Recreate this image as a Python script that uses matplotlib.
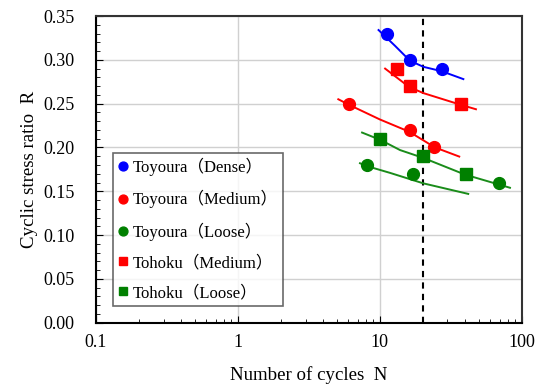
#libs
import matplotlib
matplotlib.use('Agg')
import matplotlib.pyplot as plt
import numpy as np
from matplotlib.ticker import MultipleLocator, LogLocator, NullFormatter

plt.rcParams['font.family'] = ['Liberation Serif', 'Noto Sans CJK JP']

#measured points (N, R)
toy_dense_N = [11.2, 16.3, 27.3]
toy_dense_R = [0.33, 0.30, 0.29]
toy_med_N = [6.1, 16.3, 24.2]
toy_med_R = [0.25, 0.22, 0.20]
toy_loose_N = [8.1, 17.2, 69.5]
toy_loose_R = [0.18, 0.17, 0.16]
toh_med_N = [13.2, 16.3, 37.3]
toh_med_R = [0.29, 0.27, 0.25]
toh_loose_N = [10.0, 20.3, 40.3]
toh_loose_R = [0.21, 0.19, 0.17]

#trend curves
toy_dense_cN = [9.8, 12.8, 16.3, 20.3, 27.3, 38.8]
toy_dense_cR = [0.334, 0.316, 0.299, 0.292, 0.287, 0.278]
toy_med_cN = [5.1, 6.1, 10.0, 16.1, 24.5, 36.3]
toy_med_cR = [0.255, 0.2485, 0.232, 0.218, 0.200, 0.1896]
toy_loose_cN = [7.25, 8.0, 11.8, 20.3, 42.0]
toy_loose_cR = [0.182, 0.179, 0.171, 0.159, 0.147]
toh_med_cN = [10.9, 16.1, 20.3, 36.7, 47.6]
toh_med_cR = [0.290, 0.269, 0.262, 0.249, 0.2436]
toh_loose_cN = [7.5, 10.1, 13.9, 20.3, 39.9, 82.7]
toh_loose_cR = [0.217, 0.2086, 0.197, 0.188, 0.169, 0.154]

N_limit = 20

labels = ['Toyoura（Dense）', 'Toyoura（Medium）', 'Toyoura（Loose）',
          'Tohoku（Medium）', 'Tohoku（Loose）']

fig = plt.figure(figsize=(5.41, 3.85), dpi=100)
ax = fig.add_axes([0.1775, 0.1618, 0.7868, 0.7966])

green = '#008000'
curves = [(toy_dense_cN, toy_dense_cR, 'blue'), (toy_med_cN, toy_med_cR, 'red'),
          (toy_loose_cN, toy_loose_cR, '#1a8c1a'), (toh_med_cN, toh_med_cR, 'red'),
          (toh_loose_cN, toh_loose_cR, '#1a8c1a')]
for cN, cR, c in curves:
    ax.plot(cN, cR, '-', color=c, lw=1.4, zorder=3)

points = [(toy_dense_N, toy_dense_R, 'blue', 'o'), (toy_med_N, toy_med_R, 'red', 'o'),
          (toy_loose_N, toy_loose_R, green, 'o'), (toh_med_N, toh_med_R, 'red', 's'),
          (toh_loose_N, toh_loose_R, green, 's')]
handles = []
for (n, r, c, m), lab in zip(points, labels):
    h, = ax.plot(n, r, linestyle='none', marker=m, color=c,
                 markersize=8.5 if m == 'o' else 8, zorder=4, label=lab)
    handles.append(h)

ax.axvline(N_limit, color='black', ls=(0, (3, 2.5)), lw=1.5, zorder=2)

ax.set_xscale('log')
ax.set_xlim(0.1, 100)
ax.set_ylim(0, 0.35)
ax.set_xticks([0.1, 1, 10, 100])
ax.set_xticklabels(['0.1', '1', '10', '100'])
ax.xaxis.set_minor_locator(LogLocator(base=10, subs=np.arange(2, 10)))
ax.xaxis.set_minor_formatter(NullFormatter())
ax.yaxis.set_major_locator(MultipleLocator(0.05))
ax.yaxis.set_minor_locator(MultipleLocator(0.01))
ax.set_yticklabels(['%.2f' % v for v in ax.get_yticks()])

ax.tick_params(which='both', direction='in', top=False, right=False)
ax.tick_params(axis='y', which='major', length=5, pad=15.5, labelsize=13)
ax.tick_params(axis='y', which='minor', length=3)
ax.tick_params(axis='x', which='major', length=5, pad=8, labelsize=13)
ax.tick_params(axis='x', which='minor', length=3)

ax.grid(True, which='major', color='#d0d0d0', lw=1)
ax.set_axisbelow(True)
for s in ax.spines.values():
    s.set_linewidth(1.5)
    s.set_color('#333333')
ax.spines['left'].set_color('black')
ax.spines['bottom'].set_color('black')

ax.set_xlabel('Number of cycles  N', fontsize=13.6, labelpad=11)
ax.set_ylabel('Cyclic stress ratio  R', fontsize=13.6, labelpad=4)

leg = ax.legend(handles=handles, loc='lower left', bbox_to_anchor=(0.04, 0.054),
                borderaxespad=0, fontsize=12, frameon=True, fancybox=False,
                edgecolor='#444444', handlelength=0.6, handletextpad=0.3,
                labelspacing=0.85, borderpad=0.3, markerscale=0.75)
leg.get_frame().set_linewidth(1.2)

plt.savefig('out.png', dpi=100)
